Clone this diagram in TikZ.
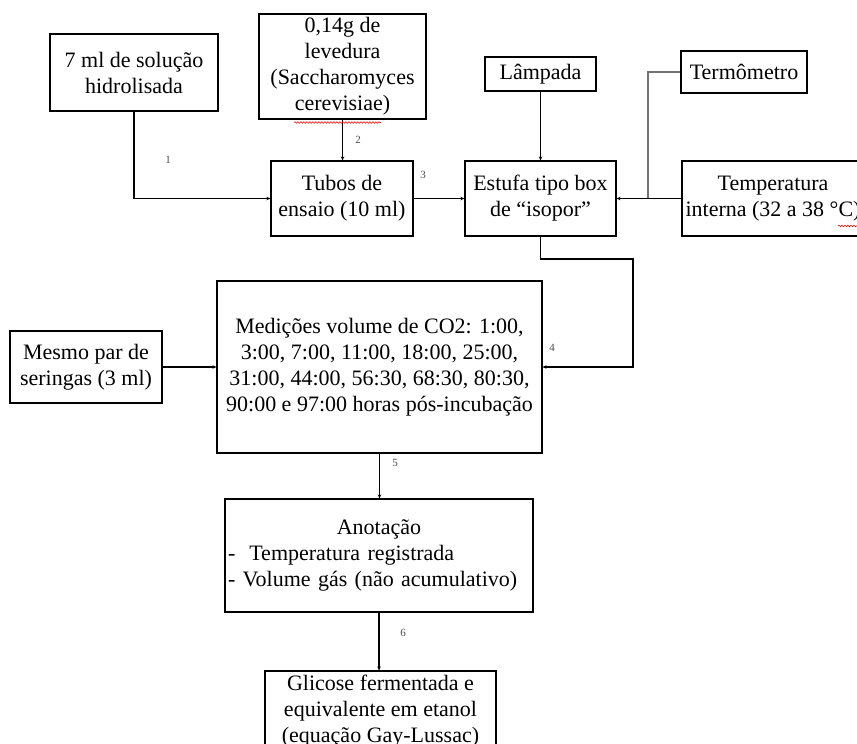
\documentclass[tikz,border=0pt]{standalone}
\usepackage{fontspec}
\setmainfont{Liberation Serif}
\usetikzlibrary{arrows.meta,decorations.pathmorphing}
\begin{document}
\begin{tikzpicture}[x=1pt,y=-1pt,
 box/.style={draw, line width=1.1pt, inner sep=0pt, align=center, font=\fontsize{22}{26}\selectfont},
 conn/.style={line width=1.1pt},
 arr/.style={conn,-{Stealth[length=4pt,width=3.5pt]}},
 lbl/.style={font=\fontsize{11}{13}\selectfont, text=black!70},
 squig/.style={red, line width=0.6pt, decorate, decoration={snake, segment length=3pt, amplitude=0.8pt}}]
\clip (0,0) rectangle (857,744);
\node[box, minimum width=168pt, minimum height=77pt] (sol) at (134,72.5) {7 ml de solução\\hidrolisada};
\node[box, minimum width=167pt, minimum height=105pt] (lev) at (342.5,66.5) {0,14g de\\levedura\\(Saccharomyces\\cerevisiae)};
\node[box, minimum width=142pt, minimum height=75pt] (tub) at (342,198.5) {Tubos de\\ensaio (10 ml)};
\node[box, minimum width=111pt, minimum height=34pt] (lamp) at (540.5,74) {Lâmpada};
\node[box, minimum width=151pt, minimum height=75pt] (est) at (540.5,198.5) {Estufa tipo box\\de “isopor”};
\node[box, minimum width=126pt, minimum height=42pt] (ter) at (744,72) {Termômetro};
\node[box, minimum width=182pt, minimum height=75pt] (temp) at (773,198.5) {Temperatura\\interna (32 a 38 °C)};
\node[box, minimum width=152pt, minimum height=72pt] (ser) at (86,367) {Mesmo par de\\seringas (3 ml)};
\node[box, minimum width=325pt, minimum height=172pt] (med) at (379.5,367) {Medições volume de CO2: 1:00,\\3:00, 7:00, 11:00, 18:00, 25:00,\\31:00, 44:00, 56:30, 68:30, 80:30,\\90:00 e 97:00 horas pós-incubação};
\node[box, minimum width=308pt, minimum height=113pt, text width=302pt, align=left] (ano) at (379,555.5) {\makebox[302pt]{Anotação}\\-\hspace{14pt}Temperatura registrada\\- Volume gás (não acumulativo)};
\node[box, minimum width=231pt, minimum height=80pt] (gli) at (380.5,711) {Glicose fermentada e\\equivalente em etanol\\(equação Gay-Lussac)};

\coordinate (jn) at (648,198.5);
\coordinate (c4) at (633,259);
\draw[arr] (sol.south) |- (tub.west);
\draw[arr] (lev.south) -- (lev.south |- tub.north);
\draw[arr] (tub.east) -- (est.west);
\draw[arr] (lamp.south) -- (est.north);
\draw[conn, black!55, line width=1.5pt] (ter.west) -| (jn);
\draw[arr] (temp.west) -- (est.east);
\draw[arr] (est.south) |- (c4) |- (med.east);
\draw[arr] (ser.east) -- (med.west);
\draw[arr] (med.south) -- (med.south |- ano.north);
\draw[arr] (ano.south) -- (ano.south |- gli.north);

\node[lbl] (l1) at (168,160) {1};
\node[lbl] (l2) at (358,140) {2};
\node[lbl] (l3) at (423,175) {3};
\node[lbl] (l4) at (552,348) {4};
\node[lbl] (l5) at (395,463) {5};
\node[lbl] (l6) at (403,633) {6};

\draw[squig] (294,122.5) -- (381,122.5);
\draw[squig] (838,226) -- (857,226);
\end{tikzpicture}
\end{document}
